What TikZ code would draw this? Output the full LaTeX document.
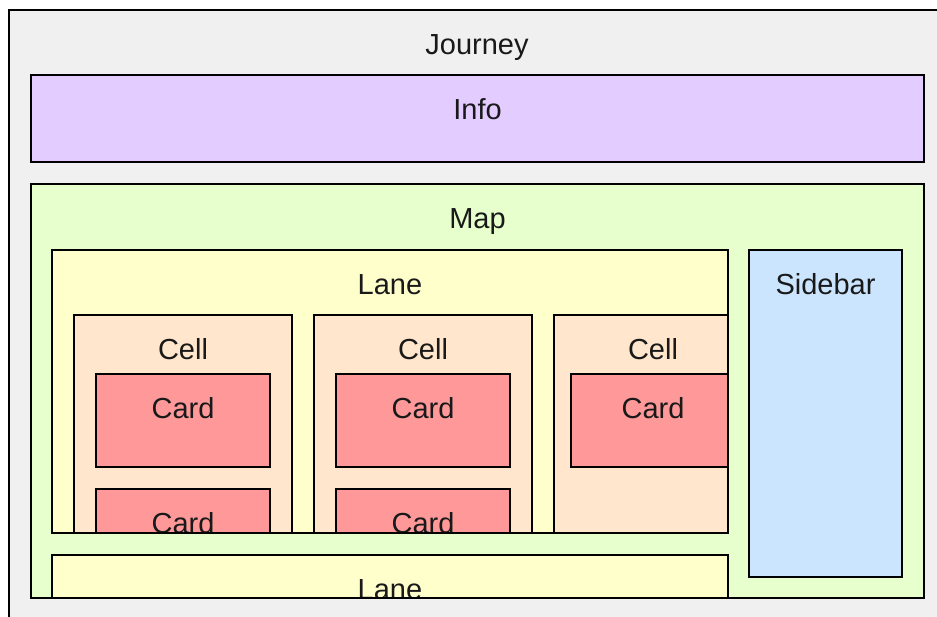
\documentclass[tikz,border=0pt]{standalone}
\usepackage{fontspec}
\setmainfont{Liberation Sans}
\definecolor{journeyC}{HTML}{F0F0F0}
\definecolor{infoC}{HTML}{E3CCFF}
\definecolor{mapC}{HTML}{E6FFCC}
\definecolor{laneC}{HTML}{FFFFCC}
\definecolor{sideC}{HTML}{CCE5FF}
\definecolor{cellC}{HTML}{FFE6CC}
\definecolor{cardC}{HTML}{FF9999}
\begin{document}
\begin{tikzpicture}[x=1pt, y=-1pt,
    box/.style={draw=black, line width=2pt, rectangle, inner sep=0pt, outer sep=0pt, anchor=north west},
    lbl/.style={anchor=base, inner sep=0pt, text=black!90, font=\fontsize{29}{34}\selectfont},
    edge/.style={draw=black, line width=2pt}]
    % Page frame (the outer box runs past it)
    \useasboundingbox (0,0) rectangle (937,617);
    \clip (0,0) rectangle (937,617);
    \fill[white] (0,0) rectangle (937,617);

    % Journey
    \node[box, line width=2.5pt, fill=journeyC, minimum width=936pt, minimum height=700pt] (journey) at (9,10) {};
    \node[lbl] (journeyT) at ([yshift=-44.5pt]journey.north) {Journey};

    % Info
    \node[box, fill=infoC, minimum width=893pt, minimum height=87pt] (info) at (31,75) {};
    \node[lbl] (infoT) at ([yshift=-44.5pt]info.north) {Info};

    % Map
    \node[box, fill=mapC, minimum width=893pt, minimum height=414pt] (map) at (31,184) {};
    \node[lbl] (mapT) at ([yshift=-44.5pt]map.north) {Map};

    \begin{scope}
        \clip (map.north west) rectangle (map.south east);

        % Lane with its cells
        \node[box, fill=laneC, minimum width=676pt, minimum height=283pt] (lane1) at (52,250) {};
        \node[lbl] (lane1T) at ([yshift=-44.5pt]lane1.north) {Lane};
        \begin{scope}
            \clip (lane1.north west) rectangle (lane1.south east);
            \foreach \i/\x in {1/74, 2/314} {
                \node[box, fill=cellC, minimum width=218pt, minimum height=300pt] (cell\i) at (\x,315) {};
                \node[lbl] (cell\i T) at ([yshift=-44.5pt]cell\i.north) {Cell};
                \begin{scope}
                    \clip (cell\i.north west) rectangle (cell\i.south east);
                    \node[box, fill=cardC, minimum width=174pt, minimum height=93pt] (cardA\i) at ([xshift=22pt, yshift=-59pt]cell\i.north west) {};
                    \node[lbl] (cardA\i T) at ([yshift=-44.5pt]cardA\i.north) {Card};
                    \node[box, fill=cardC, minimum width=174pt, minimum height=93pt] (cardB\i) at ([yshift=-22pt]cardA\i.south west) {};
                    \node[lbl] (cardB\i T) at ([yshift=-44.5pt]cardB\i.north) {Card};
                \end{scope}
            }
            % third cell, cut by the lane
            \node[box, fill=cellC, minimum width=198pt, minimum height=300pt] (cell3) at (554,315) {};
            \node[lbl] (cell3T) at ([yshift=-44.5pt]cell3.north) {Cell};
            \node[box, fill=cardC, minimum width=164pt, minimum height=93pt] (cardA3) at ([xshift=17pt, yshift=-59pt]cell3.north west) {};
            \node[lbl] (cardA3T) at ([yshift=-44.5pt]cardA3.north) {Card};
        \end{scope}
        \draw[edge] (lane1.north west) rectangle (lane1.south east);

        % Sidebar
        \node[box, fill=sideC, minimum width=153pt, minimum height=327pt] (side) at (749,250) {};
        \node[lbl] (sideT) at ([yshift=-44.5pt]side.north) {Sidebar};

        % second lane, cut by the map
        \node[box, fill=laneC, minimum width=676pt, minimum height=283pt] (lane2) at (52,555) {};
        \node[lbl] (lane2T) at ([yshift=-44.5pt]lane2.north) {Lane};
    \end{scope}
    \draw[edge] (map.north west) rectangle (map.south east);
\end{tikzpicture}
\end{document}
